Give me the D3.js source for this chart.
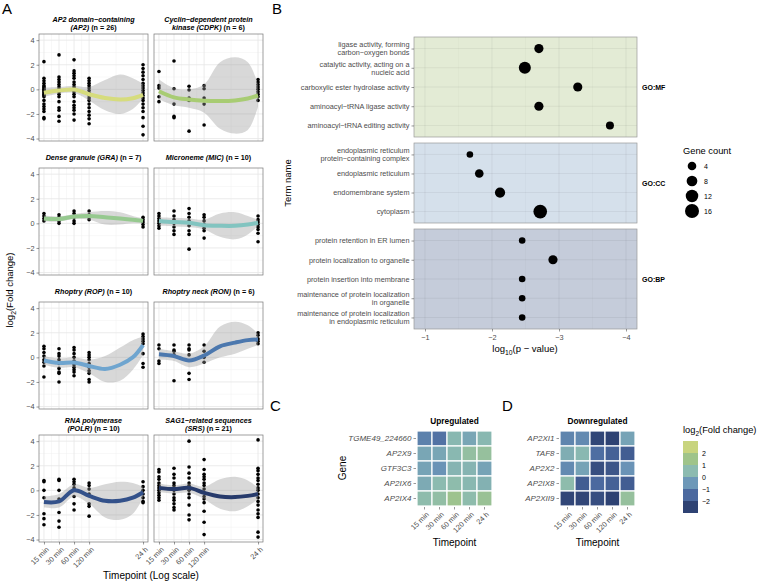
<!DOCTYPE html>
<meta charset="utf-8">
<style>
body { margin: 0; background: #fff; }
svg { font-family: "Liberation Sans", Arial, Helvetica, sans-serif; }
</style>
<svg width="758" height="582"></svg>
<script src="https://cdn.jsdelivr.net/npm/d3@7"></script>
<script>

// ---------- panel A data ----------
var timepoints = [15, 30, 60, 120, 1440];
var timeLabels = ["15 min", "30 min", "60 min", "120 min", "24 h"];
var smoothTimes = [15, 30, 60, 120, 250, 500, 900, 1440];

var ap2Points = [
  [2.25, 0.9, 0.7, 0.5, 0.3, 0.2, 0.1, 0, -0.1, -0.2, -0.3, -0.4, -0.5, -0.6, -0.9, -1.2, -1.4, -1.6, -1.8, -2.3, -2.4],
  [2.8, 1.0, 0.8, 0.6, 0.4, 0.2, 0, -0.2, -0.4, -0.6, -1.0, -1.5, -1.7, -2.2, -2.6],
  [2.4, 1.5, 1.3, 1.1, 0.9, 0.6, 0.4, 0.2, 0, -0.2, -0.4, -0.6, -1.0, -1.3, -1.5, -1.7, -2.0, -2.5],
  [0.9, 0.7, 0.5, 0.3, 0.1, -0.1, -0.3, -0.5, -0.7, -0.9, -1.2, -1.5, -1.8, -2.1, -2.4, -2.8],
  [2.0, 1.7, 1.4, 1.1, 0.8, 0.5, 0.3, 0.1, -0.1, -0.3, -0.5, -0.7, -0.9, -1.2, -1.5, -1.8, -2.3, -3.0, -3.7]
];
var ap2Fit = [-0.28, -0.1, -0.02, -0.4, -0.7, -0.82, -0.72, -0.45];
var ap2Lo = [-0.6, -0.35, -0.3, -0.9, -1.7, -2.0, -1.6, -0.75];
var ap2Hi = [0.15, 0.2, 0.3, 0.2, 0.75, 1.2, 0.9, 0.45];

var cdpkPoints = [
  [1.45, 0.3, 0.1, -0.6, -1.0],
  [2.3, 0.05, -1.2, -2.2, -2.3],
  [0.25, -0.05, -0.7, -0.9, -3.4],
  [0.3, 0.05, -0.7, -1.2, -2.9],
  [0.8, 0.6, 0.4, 0.2, 0.0, -0.2, -0.4, -0.6, -0.9]
];
var cdpkFit = [-0.15, -0.65, -0.82, -0.92, -0.95, -0.9, -0.75, -0.5];
var cdpkLo = [-0.8, -1.3, -1.5, -1.9, -3.2, -3.6, -3.3, -1.4];
var cdpkHi = [0.8, 0.1, 0.0, 0.4, 2.2, 2.6, 2.2, 0.4];

var graPoints = [
  [0.8, 0.6, 0.4, 0.2],
  [0.7, 0.5, 0.2, 0.0],
  [1.0, 0.8, 0.5, 0.2, 0.0],
  [1.0, 0.7, 0.5, 0.3],
  [0.5, 0.3, 0.1, -0.1, -0.3]
];
var graFit = [0.4, 0.35, 0.55, 0.6, 0.5, 0.4, 0.3, 0.2];
var graLo = [0.15, 0.15, 0.35, 0.3, -0.1, -0.1, 0.0, 0.0];
var graHi = [0.65, 0.55, 0.75, 0.9, 1.0, 0.9, 0.6, 0.4];

var micPoints = [
  [0.8, 0.6, 0.4, 0.2, 0.0, -0.2, -0.4],
  [1.0, 0.6, 0.3, 0.0, -0.3, -0.6, -0.9],
  [1.2, 0.8, 0.5, 0.2, -0.2, -0.6, -0.9, -2.1],
  [0.7, 0.5, 0.2, -0.1, -0.4, -0.6, -1.2],
  [0.6, 0.3, 0.1, -0.1, -0.3, -0.5, -0.8, -1.5]
];
var micFit = [0.2, 0.1, 0.05, -0.15, -0.2, -0.2, -0.1, 0.05];
var micLo = [-0.2, -0.25, -0.3, -0.5, -1.1, -1.3, -0.9, -0.2];
var micHi = [0.5, 0.45, 0.4, 0.3, 0.8, 0.9, 0.6, 0.3];

var ropPoints = [
  [0.9, 0.7, 0.4, 0.1, -0.2, -0.4, -0.7, -1.6],
  [0.7, 0.3, 0.1, -0.2, -0.5, -0.9, -1.2, -1.3, -2.0],
  [0.8, 0.6, 0.3, 0.0, -0.3, -0.6, -0.8, -1.0, -1.2, -1.5],
  [0.4, 0.2, 0.0, -0.2, -0.5, -0.8, -1.1, -1.3, -1.8, -2.0],
  [1.9, 1.7, 1.5, 1.3, 1.1, 0.3, -0.5, -0.8]
];
var ropFit = [-0.25, -0.45, -0.42, -0.7, -0.95, -0.6, 0.0, 1.0];
var ropLo = [-0.6, -0.85, -0.8, -1.3, -2.0, -1.9, -1.0, 0.2];
var ropHi = [0.1, -0.1, 0.0, -0.2, 0.1, 0.8, 1.4, 1.7];

var ronPoints = [
  [1.0, 0.7, -0.3, -0.5],
  [1.0, 0.6, 0.5, 0.2, -1.9],
  [1.0, 0.7, 0.6, 0.2, -1.3, -1.8],
  [1.0, 0.5, 0.0, -0.4],
  [2.0, 1.8, 1.5, 1.3, 1.1]
];
var ronFit = [0.25, 0.1, -0.25, 0.15, 0.9, 1.2, 1.4, 1.45];
var ronLo = [-0.2, -0.3, -0.8, -0.5, 0.0, 0.3, 0.7, 1.0];
var ronHi = [0.7, 0.5, 0.3, 0.9, 2.5, 2.9, 2.6, 1.9];

var polrPoints = [
  [0.8, 0.7, 0.0, -0.6, -1.9, -2.3, -2.8],
  [0.9, 0.8, 0.0, -0.7, -1.8, -2.5, -3.0],
  [0.9, 0.7, 0.5, 0.2, -0.5, -1.1, -1.6],
  [0.6, 0.4, 0.1, -0.3, -1.1, -1.3, -2.1],
  [0.7, 0.3, 0.0, -0.3, -0.6, -0.9, -1.0]
];
var polrFit = [-0.95, -0.9, 0.0, -0.45, -0.85, -0.85, -0.6, -0.15];
var polrLo = [-1.4, -1.4, -0.5, -1.1, -2.2, -2.4, -1.9, -0.6];
var polrHi = [-0.5, -0.3, 0.5, 0.2, 0.5, 0.7, 0.6, 0.3];

var srsPoints = [
  [1.7, 1.5, 1.1, 0.9, 0.6, 0.4, 0.2, 0.0, -0.2, -0.4, -0.6, -0.8],
  [1.8, 1.3, 1.0, 0.6, 0.4, 0.2, 0.0, -0.3, -0.6, -0.8, -1.1, -1.4, -1.6],
  [4.0, 1.9, 1.4, 1.0, 0.6, 0.4, 0.2, 0.0, -0.3, -0.6, -1.2, -2.0, -2.4],
  [2.5, 1.7, 1.3, 1.1, 0.9, 0.6, 0.4, 0.1, -0.2, -0.5, -0.7, -1.0, -1.7, -2.6, -3.6],
  [4.1, 1.8, 1.6, 1.3, 1.0, 0.8, 0.5, 0.2, 0.0, -0.3, -0.6, -0.9, -1.2, -1.6, -1.9, -2.2, -3.4, -3.8]
];
var srsFit = [0.2, 0.1, 0.2, -0.2, -0.5, -0.55, -0.45, -0.3];
var srsLo = [-0.15, -0.25, -0.2, -0.7, -1.5, -1.7, -1.3, -0.7];
var srsHi = [0.55, 0.4, 0.55, 0.3, 0.9, 1.1, 0.8, 0.2];

// ---------- panel B data ----------
var mfTerms = ["ligase activity, forming\ncarbon−oxygen bonds", "catalytic activity, acting on a\nnucleic acid",
  "carboxylic ester hydrolase activity", "aminoacyl−tRNA ligase activity", "aminoacyl−tRNA editing activity"];
var mfLogP = [-2.70, -2.49, -3.28, -2.70, -3.76];
var mfCount = [5, 11, 5, 5, 3];
var ccTerms = ["endoplasmic reticulum\nprotein−containing complex", "endoplasmic reticulum", "endomembrane system", "cytoplasm"];
var ccLogP = [-1.67, -1.81, -2.12, -2.72];
var ccCount = [1, 4, 7, 15];
var bpTerms = ["protein retention in ER lumen", "protein localization to organelle", "protein insertion into membrane",
  "maintenance of protein localization\nin organelle", "maintenance of protein localization\nin endoplasmic reticulum"];
var bpLogP = [-2.45, -2.91, -2.45, -2.45, -2.45];
var bpCount = [1, 5, 1, 1, 1];
var countLegend = [4, 8, 12, 16];

// ---------- panels C / D data ----------
var heatTimes = ["15 min", "30 min", "60 min", "120 min", "24 h"];
var upGenes = ["TGME49_224660", "AP2X9", "GTF3C3", "AP2IX6", "AP2IX4"];
var upValues = [
  [-1.0, -1.3, 0.4, -0.1, 0.4],
  [-0.1, -0.1, 0.4, 0.9, 1.0],
  [-0.2, -0.6, 0.3, 0.3, -0.2],
  [0.0, 0.5, 0.6, 0.4, 0.2],
  [0.6, 0.8, 1.4, 0.6, 1.2]
];
var downGenes = ["AP2XI1", "TAF8", "AP2X2", "AP2IX8", "AP2XII9"];
var downValues = [
  [-0.9, -0.8, -2.4, -2.8, -0.2],
  [0.1, 0.4, -1.4, -1.7, -1.8],
  [-0.8, -0.2, -2.2, -2.0, -0.6],
  [0.6, -1.8, -1.5, -1.7, -1.8],
  [-2.4, -2.4, -2.2, -2.5, 1.0]
];
var heatBreaks = [2, 1, 0, -1, -2];

// ---------- styles ----------
var heatStops = [-2.5, -1.5, -0.5, 0.5, 1.5, 2.5];
var heatColors = ["#2e4273", "#4b699f", "#6d98b8", "#8cbbb0", "#9fc48a", "#c8d47e"];
var lineColors = ["#d6dc7d", "#a8cc73", "#96c98f", "#82c4c0", "#6fa5cf", "#4c78ae", "#33518a", "#263a6b"];
var tickCol = "#4d4d4d";

var svg = d3.select("svg");
var minus = function(d) { return d < 0 ? "−" + Math.abs(d) : String(d); };

function styleAxis(g, fs) {
  g.select(".domain").remove();
  g.selectAll(".tick line").attr("stroke", "#333").attr("stroke-width", 0.5);
  g.selectAll(".tick text").attr("fill", tickCol).style("font-size", fs + "px");
}

function panelLabel(t, x, y) {
  svg.append("text").attr("x", x).attr("y", y).style("font-size", "15px").text(t);
}

// ================= PANEL A =================
panelLabel("A", 2, 14);

var facetsA = [
  { l1: "AP2 domain−containing", l2: "(AP2)", n: 26, pts: ap2Points, fit: ap2Fit, lo: ap2Lo, hi: ap2Hi },
  { l1: "Cyclin−dependent protein", l2: "kinase (CDPK)", n: 6, pts: cdpkPoints, fit: cdpkFit, lo: cdpkLo, hi: cdpkHi },
  { l1: null, l2: "Dense granule (GRA)", n: 7, pts: graPoints, fit: graFit, lo: graLo, hi: graHi },
  { l1: null, l2: "Microneme (MIC)", n: 10, pts: micPoints, fit: micFit, lo: micLo, hi: micHi },
  { l1: null, l2: "Rhoptry (ROP)", n: 10, pts: ropPoints, fit: ropFit, lo: ropLo, hi: ropHi },
  { l1: null, l2: "Rhoptry neck (RON)", n: 6, pts: ronPoints, fit: ronFit, lo: ronLo, hi: ronHi },
  { l1: "RNA polymerase", l2: "(POLR)", n: 10, pts: polrPoints, fit: polrFit, lo: polrLo, hi: polrHi },
  { l1: "SAG1−related sequences", l2: "(SRS)", n: 21, pts: srsPoints, fit: srsFit, lo: srsLo, hi: srsHi }
];

var colX = [39, 154], panelW = 109, rowTop = [34, 168, 302, 435], panelH = 107;
var lt = Math.log2(15), ht = Math.log2(1440), ex = (ht - lt) * 0.05;
var minorX = d3.pairs(timepoints).map(function(p) { return Math.sqrt(p[0] * p[1]); });

facetsA.forEach(function(f, i) {
  var col = i % 2, row = Math.floor(i / 2);
  var x0 = colX[col], y0 = rowTop[row];
  var x = d3.scaleLog().base(2).domain([Math.pow(2, lt - ex), Math.pow(2, ht + ex)]).range([x0, x0 + panelW]);
  var y = d3.scaleLinear().domain([-4.2, 4.5]).range([y0 + panelH, y0]);
  var g = svg.append("g");

  // grid
  g.selectAll(".mnx").data(minorX).enter().append("line")
    .attr("x1", x).attr("x2", x).attr("y1", y0).attr("y2", y0 + panelH)
    .attr("stroke", "#f0f0f0").attr("stroke-width", 0.5);
  g.selectAll(".mny").data([-3, -1, 1, 3]).enter().append("line")
    .attr("x1", x0).attr("x2", x0 + panelW).attr("y1", y).attr("y2", y)
    .attr("stroke", "#f0f0f0").attr("stroke-width", 0.5);
  g.selectAll(".mjx").data(timepoints).enter().append("line")
    .attr("x1", x).attr("x2", x).attr("y1", y0).attr("y2", y0 + panelH)
    .attr("stroke", "#e6e6e6").attr("stroke-width", 0.8);
  g.selectAll(".mjy").data([-4, -2, 0, 2, 4]).enter().append("line")
    .attr("x1", x0).attr("x2", x0 + panelW).attr("y1", y).attr("y2", y)
    .attr("stroke", "#e6e6e6").attr("stroke-width", 0.8);

  // points
  var flat = [];
  f.pts.forEach(function(vals, k) { vals.forEach(function(v) { flat.push([timepoints[k], v]); }); });
  g.selectAll("circle").data(flat).enter().append("circle")
    .attr("cx", function(d) { return x(d[0]); }).attr("cy", function(d) { return y(d[1]); })
    .attr("r", 1.8).attr("fill", "#000");

  // ribbon + smooth
  var sm = smoothTimes.map(function(t, k) { return { t: t, fit: f.fit[k], lo: f.lo[k], hi: f.hi[k] }; });
  g.append("path").datum(sm)
    .attr("d", d3.area().curve(d3.curveCatmullRom)
      .x(function(d) { return x(d.t); }).y0(function(d) { return y(d.lo); }).y1(function(d) { return y(d.hi); }))
    .attr("fill", "#999").attr("fill-opacity", 0.38);
  g.append("path").datum(sm)
    .attr("d", d3.line().curve(d3.curveCatmullRom)
      .x(function(d) { return x(d.t); }).y(function(d) { return y(d.fit); }))
    .attr("fill", "none").attr("stroke", lineColors[i]).attr("stroke-width", 4);

  g.append("rect").attr("x", x0).attr("y", y0).attr("width", panelW).attr("height", panelH)
    .attr("fill", "none").attr("stroke", "#777").attr("stroke-width", 0.7);

  // strip
  var cx = x0 + panelW / 2, cy = y0 - 10.5;
  var st = g.append("text").attr("text-anchor", "middle").style("font-size", "7.2px").style("font-weight", "bold");
  if (f.l1) {
    st.append("tspan").attr("x", cx).attr("y", cy - 1.6).style("font-style", "italic").text(f.l1);
    var t2 = g.append("text").attr("text-anchor", "middle").style("font-size", "7.2px").style("font-weight", "bold")
      .attr("x", cx).attr("y", cy + 6.3);
    t2.append("tspan").style("font-style", "italic").text(f.l2);
    t2.append("tspan").text(" (n = " + f.n + ")");
  } else {
    st.attr("x", cx).attr("y", cy + 2.5);
    st.append("tspan").style("font-style", "italic").text(f.l2);
    st.append("tspan").text(" (n = " + f.n + ")");
  }

  if (col === 0) {
    var ya = g.append("g").attr("transform", "translate(" + x0 + ",0)")
      .call(d3.axisLeft(y).tickValues([-4, -2, 0, 2, 4]).tickSize(2.5).tickPadding(2).tickFormat(minus));
    styleAxis(ya, 7.3);
  }
  if (row === 3) {
    var xa = g.append("g").attr("transform", "translate(0," + (y0 + panelH) + ")")
      .call(d3.axisBottom(x).tickValues(timepoints).tickSize(2.5).tickFormat(function(d, k) { return timeLabels[k]; }));
    styleAxis(xa, 7.3);
    xa.selectAll(".tick text").attr("x", 0).attr("y", 0).attr("dy", "0.35em")
      .attr("transform", "translate(3,6) rotate(-45)").style("text-anchor", "end");
  }
});

var ytA = svg.append("text").attr("transform", "translate(13,290) rotate(-90)")
  .attr("text-anchor", "middle").style("font-size", "9.5px");
ytA.append("tspan").text("log");
ytA.append("tspan").attr("dy", 2.5).style("font-size", "6.8px").text("2");
ytA.append("tspan").attr("dy", -2.5).text("(Fold change)");
svg.append("text").attr("x", 151).attr("y", 579).attr("text-anchor", "middle")
  .style("font-size", "10px").text("Timepoint (Log scale)");

// ================= PANEL B =================
panelLabel("B", 272, 14);

var bx = d3.scaleLinear().domain([-0.836, -4.164]).range([414, 637]);
var areaScale = d3.scaleLinear().domain([1, 16]).range([10.9, 49]);
function rad(c) { return Math.sqrt(areaScale(c)); }

var goFacets = [
  { key: "GO:MF", terms: mfTerms, p: mfLogP, n: mfCount, top: 37, bottom: 137, fill: "#e3ebd5" },
  { key: "GO:CC", terms: ccTerms, p: ccLogP, n: ccCount, top: 143, bottom: 223, fill: "#d5e0eb" },
  { key: "GO:BP", terms: bpTerms, p: bpLogP, n: bpCount, top: 229, bottom: 329, fill: "#c5ccda" }
];

goFacets.forEach(function(f) {
  var y = d3.scalePoint().domain(f.terms).range([f.top, f.bottom]).padding(0.6);
  var g = svg.append("g");
  g.append("rect").attr("x", 414).attr("y", f.top).attr("width", 223).attr("height", f.bottom - f.top)
    .attr("fill", f.fill);
  g.selectAll(".mn").data([-1.5, -2.5, -3.5]).enter().append("line")
    .attr("x1", bx).attr("x2", bx).attr("y1", f.top).attr("y2", f.bottom)
    .attr("stroke", "#000").attr("stroke-opacity", 0.04).attr("stroke-width", 0.5);
  g.selectAll(".mj").data([-1, -2, -3, -4]).enter().append("line")
    .attr("x1", bx).attr("x2", bx).attr("y1", f.top).attr("y2", f.bottom)
    .attr("stroke", "#000").attr("stroke-opacity", 0.07).attr("stroke-width", 0.8);
  g.selectAll(".hy").data(f.terms).enter().append("line")
    .attr("x1", 414).attr("x2", 637).attr("y1", y).attr("y2", y)
    .attr("stroke", "#000").attr("stroke-opacity", 0.07).attr("stroke-width", 0.8);
  g.selectAll("circle").data(f.terms).enter().append("circle")
    .attr("cx", function(d, k) { return bx(f.p[k]); }).attr("cy", y)
    .attr("r", function(d, k) { return rad(f.n[k]); }).attr("fill", "#000");
  g.append("rect").attr("x", 414).attr("y", f.top).attr("width", 223).attr("height", f.bottom - f.top)
    .attr("fill", "none").attr("stroke", "#999").attr("stroke-width", 0.7);

  var ya = g.append("g").attr("transform", "translate(414,0)").call(d3.axisLeft(y).tickSize(2.5).tickPadding(2));
  styleAxis(ya, 7.3);
  ya.selectAll(".tick text").each(function(d) {
    var lines = d.split("\n"), t = d3.select(this);
    t.text(null).attr("dy", null);
    lines.forEach(function(s, k) {
      t.append("tspan").attr("x", -4.5)
        .attr("dy", k === 0 ? (0.32 - (lines.length - 1) * 0.55) + "em" : "1.1em").text(s);
    });
  });

  g.append("text").attr("x", 642).attr("y", (f.top + f.bottom) / 2 + 2.5)
    .style("font-size", "7px").style("font-weight", "bold").text(f.key);
});

var bxa = svg.append("g").attr("transform", "translate(0,329)")
  .call(d3.axisBottom(bx).tickValues([-1, -2, -3, -4]).tickSize(2.5).tickPadding(3).tickFormat(minus));
styleAxis(bxa, 7.3);

var xtB = svg.append("text").attr("x", 525).attr("y", 352).attr("text-anchor", "middle").style("font-size", "9.5px");
xtB.append("tspan").text("log");
xtB.append("tspan").attr("dy", 2.5).style("font-size", "6.8px").text("10");
xtB.append("tspan").attr("dy", -2.5).text("(p − value)");
svg.append("text").attr("transform", "translate(291,183) rotate(-90)").attr("text-anchor", "middle")
  .style("font-size", "9.5px").text("Term name");

// size legend
svg.append("text").attr("x", 683).attr("y", 154).style("font-size", "9.3px").text("Gene count");
var ly = d3.scalePoint().domain(countLegend).range([166, 211]);
svg.selectAll(".lgc").data(countLegend).enter().append("circle")
  .attr("cx", 692).attr("cy", ly).attr("r", rad).attr("fill", "#000");
svg.selectAll(".lgt").data(countLegend).enter().append("text")
  .attr("x", 704).attr("y", function(d) { return ly(d) + 2.5; }).style("font-size", "7px").text(String);

// ================= PANELS C / D =================
panelLabel("C", 270, 411);
panelLabel("D", 502, 411);

var heatColor = d3.scaleLinear().domain(heatStops).range(heatColors).clamp(true);

function drawHeat(genes, values, x0, title) {
  var hx = d3.scaleBand().domain(heatTimes).range([x0, x0 + 75]);
  var hy = d3.scaleBand().domain(genes).range([431, 506]);
  var g = svg.append("g");
  var cells = [];
  genes.forEach(function(gn, r) { heatTimes.forEach(function(t, c) { cells.push({ g: gn, t: t, v: values[r][c] }); }); });
  g.selectAll("rect").data(cells).enter().append("rect")
    .attr("x", function(d) { return hx(d.t); }).attr("y", function(d) { return hy(d.g); })
    .attr("width", hx.bandwidth()).attr("height", hy.bandwidth())
    .attr("fill", function(d) { return heatColor(d.v); }).attr("stroke", "#fff").attr("stroke-width", 1.2);

  var ya = g.append("g").attr("transform", "translate(" + (x0 - 1) + ",0)")
    .call(d3.axisLeft(hy).tickSize(2.5).tickPadding(2));
  styleAxis(ya, 8);
  ya.selectAll(".tick text").style("font-style", "italic");

  var xa = g.append("g").attr("transform", "translate(0,507)")
    .call(d3.axisBottom(hx).tickSize(2.5));
  styleAxis(xa, 7.3);
  xa.selectAll(".tick text").attr("x", 0).attr("y", 0).attr("dy", "0.35em")
    .attr("transform", "translate(3,6) rotate(-45)").style("text-anchor", "end");

  g.append("text").attr("x", x0 + 37.5).attr("y", 424).attr("text-anchor", "middle")
    .style("font-size", "8.3px").style("font-weight", "bold").text(title);
  g.append("text").attr("x", x0 + 37.5).attr("y", 546).attr("text-anchor", "middle")
    .style("font-size", "10px").text("Timepoint");
}

drawHeat(upGenes, upValues, 417, "Upregulated");
drawHeat(downGenes, downValues, 560, "Downregulated");
svg.append("text").attr("transform", "translate(346,468) rotate(-90)").attr("text-anchor", "middle")
  .style("font-size", "10px").text("Gene");

// colour legend
var lt2 = svg.append("text").attr("x", 683).attr("y", 433).style("font-size", "9.3px");
lt2.append("tspan").text("log");
lt2.append("tspan").attr("dy", 2.5).style("font-size", "6.5px").text("2");
lt2.append("tspan").attr("dy", -2.5).text("(Fold change)");
var legY = d3.scaleLinear().domain([3, -3]).range([441, 513]);
var bins = d3.range(6).map(function(k) { return [3 - k, 2 - k]; });
svg.selectAll(".bin").data(bins).enter().append("rect")
  .attr("x", 683).attr("width", 15)
  .attr("y", function(d) { return legY(d[0]); })
  .attr("height", function(d) { return legY(d[1]) - legY(d[0]); })
  .attr("fill", function(d) { return heatColor((d[0] + d[1]) / 2); });
svg.selectAll(".binl").data(heatBreaks).enter().append("text")
  .attr("x", 702).attr("y", function(d) { return legY(d) + 2.5; })
  .style("font-size", "7px").text(minus);
</script>
